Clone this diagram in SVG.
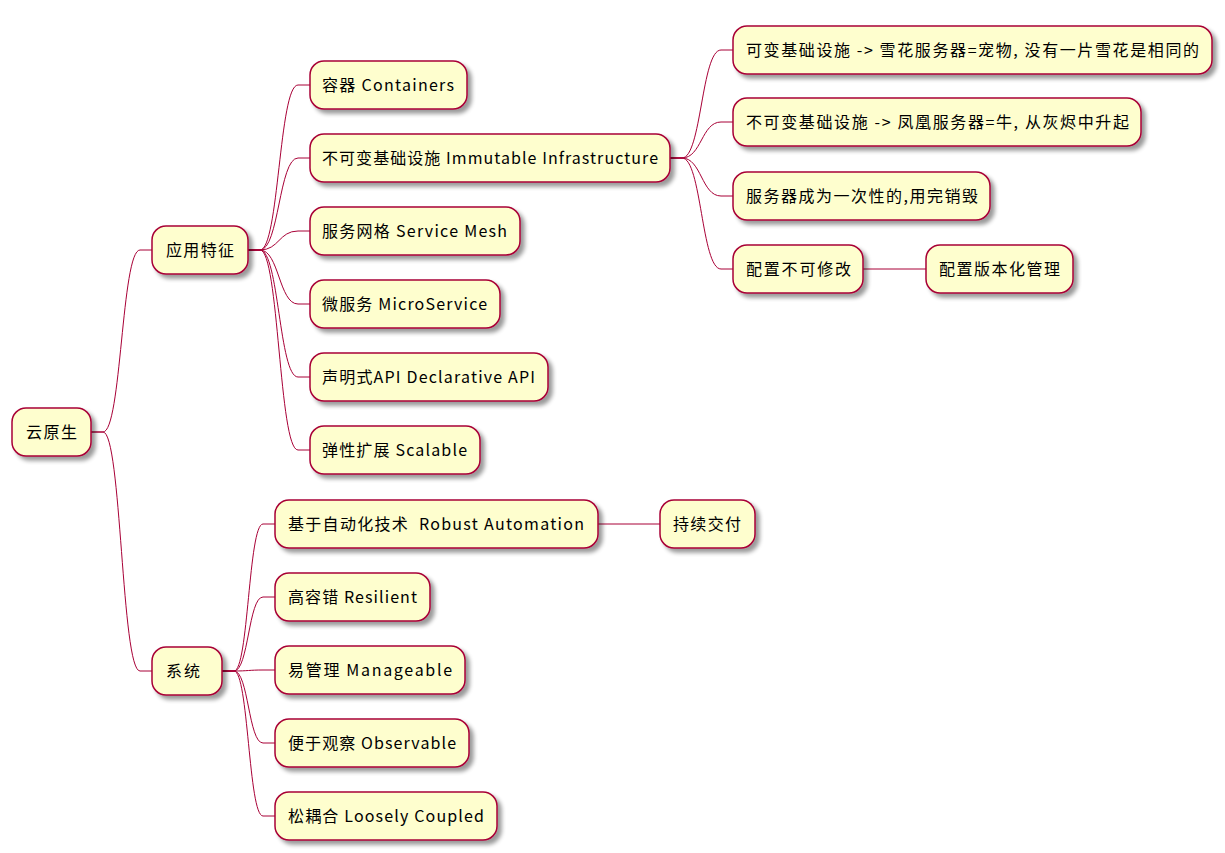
<svg xmlns="http://www.w3.org/2000/svg" width="1225" height="853" viewBox="0 0 1225 853">
<style>
.n rect{fill:#FEFECE;stroke:#A80036;stroke-width:1.5;filter:url(#sh)}
.n text{font-family:"Noto Sans CJK SC","Noto Sans",sans-serif;font-size:16px;fill:#000;white-space:pre}
#links path{fill:none;stroke:#A80036;stroke-width:1}
</style>
<defs>
<filter id="sh" x="-10%" y="-20%" width="130%" height="160%">
<feGaussianBlur in="SourceAlpha" stdDeviation="2"/>
<feOffset dx="4" dy="4" result="b"/>
<feComponentTransfer><feFuncA type="linear" slope="0.4"/></feComponentTransfer>
<feMerge><feMergeNode/><feMergeNode in="SourceGraphic"/></feMerge>
</filter>
</defs>
<rect width="1225" height="853" fill="#fff"/>
<g id="links">
<path d="M91,432 L103,432 C121.5,432 121.5,250 140,250 L152,250"/>
<path d="M91,432 L103,432 C121.5,432 121.5,671 140,671 L152,671"/>
<path d="M248,250 L260,250 C279,250 279,85 298,85 L310,85"/>
<path d="M248,250 L260,250 C279,250 279,158 298,158 L310,158"/>
<path d="M248,250 L260,250 C279,250 279,231 298,231 L310,231"/>
<path d="M248,250 L260,250 C279,250 279,304 298,304 L310,304"/>
<path d="M248,250 L260,250 C279,250 279,377 298,377 L310,377"/>
<path d="M248,250 L260,250 C279,250 279,450 298,450 L310,450"/>
<path d="M670,158 L682,158 C701.5,158 701.5,50 721,50 L733,50"/>
<path d="M670,158 L682,158 C701.5,158 701.5,122 721,122 L733,122"/>
<path d="M670,158 L682,158 C701.5,158 701.5,196 721,196 L733,196"/>
<path d="M670,158 L682,158 C701.5,158 701.5,269 721,269 L733,269"/>
<path d="M863,269 L926,269"/>
<path d="M222,671 L234,671 C248.5,671 248.5,524 263,524 L275,524"/>
<path d="M222,671 L234,671 C248.5,671 248.5,597 263,597 L275,597"/>
<path d="M222,671 L234,671 C248.5,671 248.5,670 263,670 L275,670"/>
<path d="M222,671 L234,671 C248.5,671 248.5,743 263,743 L275,743"/>
<path d="M222,671 L234,671 C248.5,671 248.5,816 263,816 L275,816"/>
<path d="M598,524 L660,524"/>
</g>
<g id="root" class="n"><rect x="12" y="408" width="79" height="48" rx="14"/><text x="26" y="438" textLength="51" lengthAdjust="spacing">云原生</text></g>
<g id="app" class="n"><rect x="152" y="226" width="96" height="48" rx="14"/><text x="166" y="256" textLength="68" lengthAdjust="spacing">应用特征</text></g>
<g id="sys" class="n"><rect x="152" y="647" width="70" height="48" rx="14"/><text x="166" y="677" textLength="34" lengthAdjust="spacing">系统</text></g>
<g id="containers" class="n"><rect x="310" y="61" width="157" height="48" rx="14"/><text x="322" y="91" textLength="132" lengthAdjust="spacing">容器 Containers</text></g>
<g id="immutable" class="n"><rect x="310" y="134" width="360" height="48" rx="14"/><text x="322" y="164" textLength="336" lengthAdjust="spacing">不可变基础设施 Immutable Infrastructure</text></g>
<g id="mesh" class="n"><rect x="310" y="207" width="210" height="48" rx="14"/><text x="322" y="237" textLength="185" lengthAdjust="spacing">服务网格 Service Mesh</text></g>
<g id="micro" class="n"><rect x="310" y="280" width="190" height="48" rx="14"/><text x="322" y="310" textLength="165" lengthAdjust="spacing">微服务 MicroService</text></g>
<g id="declarative" class="n"><rect x="310" y="353" width="238" height="48" rx="14"/><text x="322" y="383" textLength="213" lengthAdjust="spacing">声明式API Declarative API</text></g>
<g id="scalable" class="n"><rect x="310" y="426" width="170" height="48" rx="14"/><text x="322" y="456" textLength="145" lengthAdjust="spacing">弹性扩展 Scalable</text></g>
<g id="snowflake" class="n"><rect x="733" y="26" width="479" height="48" rx="14"/><text x="746" y="56" textLength="453" lengthAdjust="spacing">可变基础设施 -&gt; 雪花服务器=宠物, 没有一片雪花是相同的</text></g>
<g id="phoenix" class="n"><rect x="733" y="98" width="408" height="48" rx="14"/><text x="746" y="128" textLength="383" lengthAdjust="spacing">不可变基础设施 -&gt; 凤凰服务器=牛, 从灰烬中升起</text></g>
<g id="disposable" class="n"><rect x="733" y="172" width="257" height="48" rx="14"/><text x="746" y="202" textLength="232" lengthAdjust="spacing">服务器成为一次性的,用完销毁</text></g>
<g id="config" class="n"><rect x="733" y="245" width="130" height="48" rx="14"/><text x="746" y="275" textLength="105" lengthAdjust="spacing">配置不可修改</text></g>
<g id="versioned" class="n"><rect x="926" y="245" width="147" height="48" rx="14"/><text x="939" y="275" textLength="121" lengthAdjust="spacing">配置版本化管理</text></g>
<g id="automation" class="n"><rect x="275" y="500" width="323" height="48" rx="14"/><text x="288" y="530" textLength="296" lengthAdjust="spacing">基于自动化技术  Robust Automation</text></g>
<g id="cd" class="n"><rect x="660" y="500" width="95" height="48" rx="14"/><text x="673" y="530" textLength="68" lengthAdjust="spacing">持续交付</text></g>
<g id="resilient" class="n"><rect x="275" y="573" width="155" height="48" rx="14"/><text x="288" y="603" textLength="129" lengthAdjust="spacing">高容错 Resilient</text></g>
<g id="manageable" class="n"><rect x="275" y="646" width="190" height="48" rx="14"/><text x="288" y="676" textLength="164" lengthAdjust="spacing">易管理 Manageable</text></g>
<g id="observable" class="n"><rect x="275" y="719" width="194" height="48" rx="14"/><text x="288" y="749" textLength="168" lengthAdjust="spacing">便于观察 Observable</text></g>
<g id="loosely" class="n"><rect x="275" y="792" width="222" height="48" rx="14"/><text x="288" y="822" textLength="196" lengthAdjust="spacing">松耦合 Loosely Coupled</text></g>
</svg>
